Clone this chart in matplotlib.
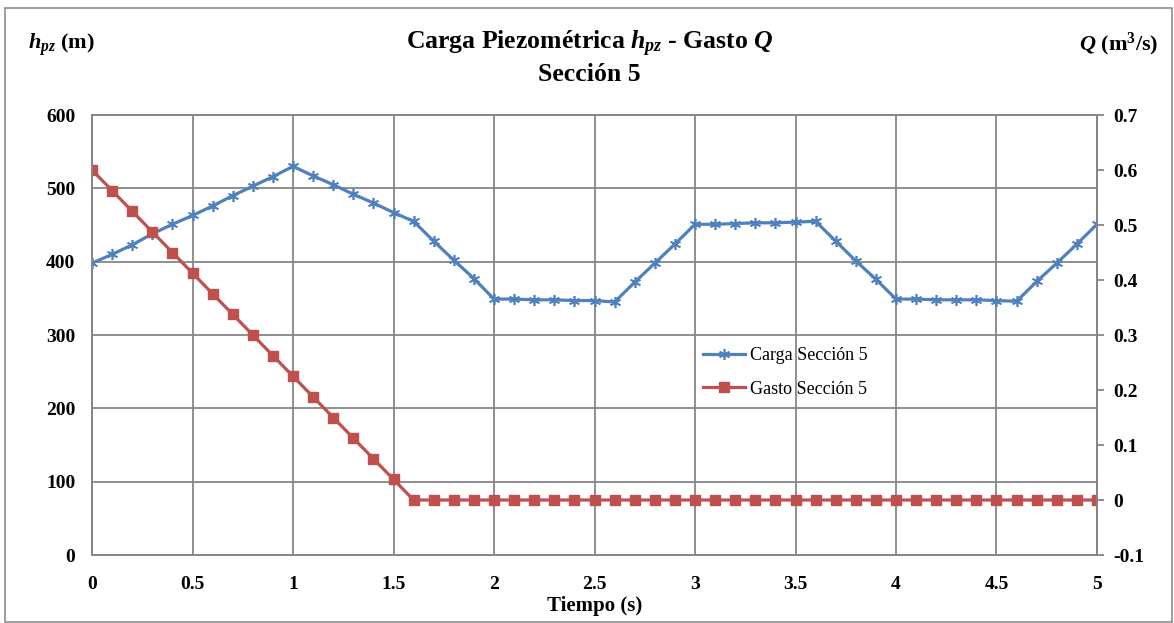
import matplotlib
matplotlib.use("Agg")
import matplotlib.pyplot as plt
from matplotlib.patches import Rectangle

plt.rcParams['font.family'] = ['Liberation Serif', 'DejaVu Serif']
plt.rcParams['mathtext.fontset'] = 'custom'
plt.rcParams['mathtext.rm'] = 'Liberation Serif:bold'
plt.rcParams['mathtext.it'] = 'Liberation Serif:italic:bold'
plt.rcParams['mathtext.bf'] = 'Liberation Serif:bold'

# tiempo (s), cada 0.1 s
tiempo = [0.0, 0.1, 0.2, 0.3, 0.4, 0.5, 0.6, 0.7, 0.8, 0.9,
          1.0, 1.1, 1.2, 1.3, 1.4, 1.5, 1.6, 1.7, 1.8, 1.9,
          2.0, 2.1, 2.2, 2.3, 2.4, 2.5, 2.6, 2.7, 2.8, 2.9,
          3.0, 3.1, 3.2, 3.3, 3.4, 3.5, 3.6, 3.7, 3.8, 3.9,
          4.0, 4.1, 4.2, 4.3, 4.4, 4.5, 4.6, 4.7, 4.8, 4.9, 5.0]

# carga piezométrica h_pz (m)
carga = [398, 410, 423, 438, 451, 463, 476, 490, 503, 516,
         530, 517, 505, 492, 480, 467, 455, 428, 402, 377,
         349, 349, 348, 348, 347, 347, 345, 372, 398, 424,
         451, 451, 452, 453, 453, 454, 455, 428, 401, 376,
         349, 349, 348, 348, 348, 347, 346, 373, 398, 424, 451]

# gasto Q (m3/s)
gasto = [0.6, 0.5625, 0.525, 0.4875, 0.45, 0.4125, 0.375, 0.3375, 0.3, 0.2625,
         0.225, 0.1875, 0.15, 0.1125, 0.075, 0.0375, 0.0, 0.0, 0.0, 0.0,
         0.0, 0.0, 0.0, 0.0, 0.0, 0.0, 0.0, 0.0, 0.0, 0.0,
         0.0, 0.0, 0.0, 0.0, 0.0, 0.0, 0.0, 0.0, 0.0, 0.0,
         0.0, 0.0, 0.0, 0.0, 0.0, 0.0, 0.0, 0.0, 0.0, 0.0, 0.0]

x_ticks = [0, 0.5, 1, 1.5, 2, 2.5, 3, 3.5, 4, 4.5, 5]
x_labels = ['0', '0.5', '1', '1.5', '2', '2.5', '3', '3.5', '4', '4.5', '5']
h_ticks = [0, 100, 200, 300, 400, 500, 600]
q_ticks = [-0.1, 0, 0.1, 0.2, 0.3, 0.4, 0.5, 0.6, 0.7]
q_labels = ['-0.1', '0', '0.1', '0.2', '0.3', '0.4', '0.5', '0.6', '0.7']

azul = '#4F81BD'
rojo = '#C0504D'
gris = '#868686'

fig = plt.figure(figsize=(11.74, 6.23), dpi=100)
fig.patches.append(Rectangle((0.004, 0.002), 0.994, 0.985, transform=fig.transFigure,
                             fill=False, edgecolor='#8c8c8c', linewidth=1.2))

ax = fig.add_axes([0.0784, 0.1091, 0.856, 0.7063])
ax.plot(tiempo, carga, color=azul, linewidth=2.3, marker=(6, 2, 0),
        markersize=8, markeredgewidth=1.2, label='Carga Sección 5')
ax.set_xlim(0, 5)
ax.set_ylim(0, 600)
ax.set_xticks(x_ticks)
ax.set_xticklabels(x_labels)
ax.set_yticks(h_ticks)
ax.grid(True, color=gris, linewidth=1.3)
ax.set_axisbelow(True)
for s in ax.spines.values():
    s.set_color(gris)
    s.set_linewidth(1.3)
ax.tick_params(axis='x', length=0, pad=15, labelsize=14)
ax.tick_params(axis='y', length=0, pad=12, labelsize=14)
for lbl in ax.get_xticklabels() + ax.get_yticklabels():
    lbl.set_fontweight('bold')
ax.set_xlabel('Tiempo (s)', fontsize=15, fontweight='bold', labelpad=2)

ax2 = ax.twinx()
ax2.plot(tiempo, gasto, color=rojo, linewidth=2.3, marker='s',
         markersize=7, label='Gasto Sección 5')
ax2.set_ylim(-0.1, 0.7)
ax2.set_yticks(q_ticks)
ax2.set_yticklabels(q_labels)
for s in ax2.spines.values():
    s.set_color(gris)
    s.set_linewidth(1.3)
ax2.tick_params(axis='y', length=5, color=gris, width=1.3, pad=7, labelsize=14)
for lbl in ax2.get_yticklabels():
    lbl.set_fontweight('bold')

h1, l1 = ax.get_legend_handles_labels()
h2, l2 = ax2.get_legend_handles_labels()
ax2.legend(h1 + h2, l1 + l2, loc='center left', bbox_to_anchor=(0.592, 0.415),
           frameon=False, fontsize=13, handlelength=2.3, handletextpad=0.3,
           labelspacing=0.9)

fig.text(0.502, 0.930, 'Carga Piezométrica $h_{pz}$ - Gasto $Q$', ha='center',
         va='center', fontsize=18.5, fontweight='bold')
fig.text(0.502, 0.880, 'Sección 5', ha='center', va='center',
         fontsize=18.5, fontweight='bold')
fig.text(0.024, 0.928, '$h_{pz}$ (m)', ha='left', va='center',
         fontsize=16, fontweight='bold')
fig.text(0.987, 0.928, '$Q$ (m$^3$/s)', ha='right', va='center',
         fontsize=16, fontweight='bold')

fig.savefig('out.png', dpi=100)
